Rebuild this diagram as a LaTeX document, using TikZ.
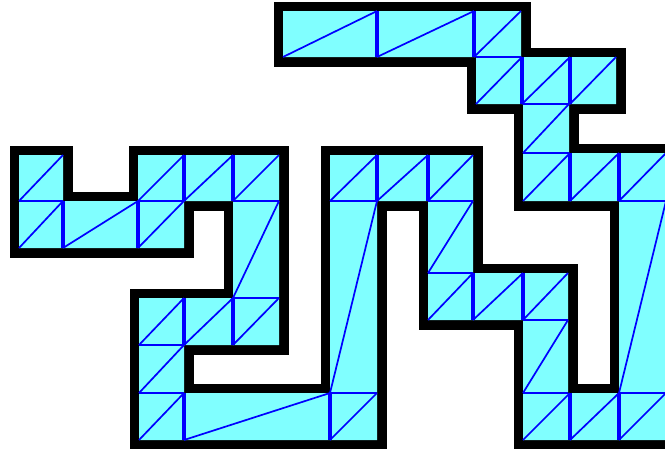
\documentclass[tikz,border=0pt]{standalone}
\definecolor{fillcyan}{RGB}{128,255,255}
\definecolor{gridblue}{RGB}{0,0,255}
\tikzset{
  polyfill/.style={fill=fillcyan, preaction={draw=black, line width=19pt, line join=miter}},
  diagline/.style={draw=gridblue, line width=1.7pt},
  hline/.style={draw=gridblue, line width=2.2pt},
  vline/.style={draw=gridblue, line width=3.6pt},
}
\begin{document}
\begin{tikzpicture}[x=1pt,y=-1pt]
\useasboundingbox (0,0) rectangle (665,448);
\clip (0,0) rectangle (665,448);
% the polygon
\path[polyfill] (19,155) -- (63,155) -- (63,201) -- (138,201) -- (138,155) -- (279,155)
  -- (279,345) -- (184,345) -- (184,393) -- (330,393) -- (330,155) -- (473,155)
  -- (473,273) -- (568,273) -- (568,393) -- (619,393) -- (619,201) -- (523,201)
  -- (523,104) -- (476,104) -- (476,57) -- (283,57) -- (283,11) -- (521,11)
  -- (521,57) -- (616,57) -- (616,104) -- (569,104) -- (569,153) -- (690,153)
  -- (690,440) -- (523,440) -- (523,320) -- (428,320) -- (428,201) -- (377,201)
  -- (377,440) -- (139,440) -- (139,298) -- (233,298) -- (233,201) -- (184,201)
  -- (184,248) -- (19,248) -- cycle;
% diagonals of the cells: x1/x2/y1/y2
\foreach \xa/\xb/\ya/\yb in {
  19/63/155/201, 19/63/201/248, 63/138/201/248, 138/184/201/248, 138/184/155/201,
  184/233/155/201, 233/279/155/201, 233/279/201/298,
  139/184/298/345, 184/233/298/345, 233/279/298/345, 139/184/345/393, 139/184/393/440,
  184/330/393/440, 330/377/393/440, 330/377/201/393,
  330/377/155/201, 377/428/155/201, 428/473/155/201, 428/473/201/273, 428/473/273/320,
  473/523/273/320, 523/568/273/320, 523/568/320/393,
  523/570/393/440, 570/619/393/440, 619/666/393/440, 619/666/201/393,
  523/570/153/201, 570/619/153/201, 619/666/153/201, 523/569/104/153,
  476/522/57/104, 522/570/57/104, 570/616/57/104,
  283/377/11/57, 377/474/11/57, 474/521/11/57}
  \draw[diagline] (\xa,\yb) -- (\xb,\ya);
% horizontal inner lines: y/x1/x2
\foreach \y/\xa/\xb in {
  201/19/63, 201/138/184, 201/233/279, 298/233/279, 345/139/184, 393/139/184,
  393/330/377, 201/330/377, 201/428/473, 273/428/473, 320/523/568, 393/523/568,
  393/619/666, 201/619/666, 153/523/569, 104/523/569, 57/476/521}
  \draw[hline] (\xa,\y) -- (\xb,\y);
% vertical inner lines: x/y1/y2
\foreach \x/\ya/\yb in {
  63/201/248, 138/201/248, 184/155/201, 233/155/201,
  184/298/345, 233/298/345, 184/393/440, 330/393/440,
  377/155/201, 428/155/201, 473/273/320, 523/273/320,
  570/393/440, 619/393/440, 570/153/201, 619/153/201,
  377/11/57, 474/11/57, 522/57/104, 570/57/104}
  \draw[vline] (\x,\ya) -- (\x,\yb);
\end{tikzpicture}
\end{document}
